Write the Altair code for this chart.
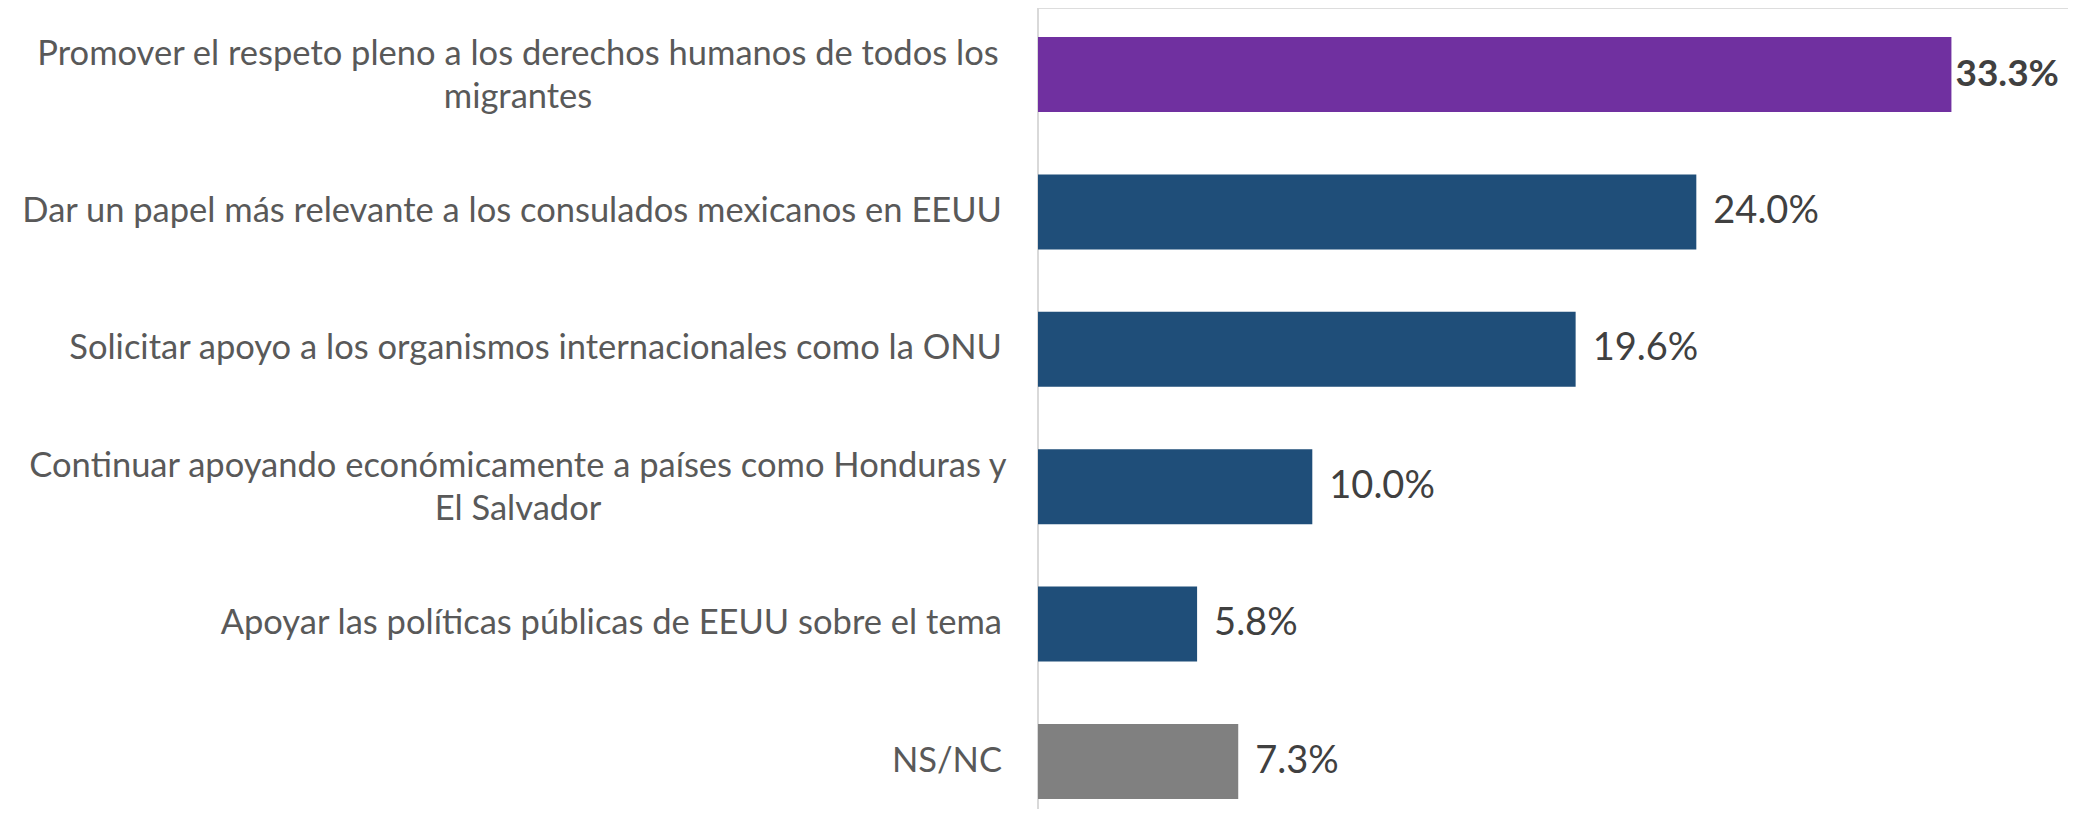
import altair as alt
import pandas as pd

categorias = [
    "Promover el respeto pleno a los derechos humanos de todos los\nmigrantes",
    "Dar un papel más relevante a los consulados mexicanos en EEUU",
    "Solicitar apoyo a los organismos internacionales como la ONU",
    "Continuar apoyando económicamente a países como Honduras y\nEl Salvador",
    "Apoyar las políticas públicas de EEUU sobre el tema",
    "NS/NC",
]
valores = [33.3, 24.0, 19.6, 10.0, 5.8, 7.3]
grupos = ["destacado", "normal", "normal", "normal", "normal", "nsnc"]
etiquetas = ["33.3%", "24.0%", "19.6%", "10.0%", "5.8%", "7.3%"]

df = pd.DataFrame({"cat": categorias, "valor": valores, "grupo": grupos, "etq": etiquetas})

W, H = 1030, 801
FONT = "Lato"

y = alt.Y("cat:N", sort=categorias, axis=None,
          scale=alt.Scale(paddingInner=0.454, paddingOuter=0.142, align=0.744))
x = alt.X("valor:Q", axis=None, scale=alt.Scale(domain=[0, 37.55]))

base = alt.Chart(df)

bars = base.mark_bar().encode(
    x=x, y=y,
    color=alt.Color("grupo:N", legend=None,
                    scale=alt.Scale(domain=["destacado", "normal", "nsnc"],
                                    range=["#7030A0", "#1F4E79", "#808080"])),
)

val_norm = base.transform_filter("datum.grupo != 'destacado'").mark_text(
    align="left", baseline="middle", dx=17, font=FONT, fontSize=38, color="#404040"
).encode(x=x, y=y, text="etq:N")

val_bold = base.transform_filter("datum.grupo == 'destacado'").mark_text(
    align="left", baseline="middle", dx=4, font=FONT, fontSize=37, fontWeight="bold", color="#404040"
).encode(x=x, y=y, text="etq:N")

lab_single = base.transform_filter("indexof(datum.cat, '\\n') < 0").mark_text(
    align="right", baseline="middle", font=FONT, fontSize=34.5, color="#595959"
).encode(x=alt.value(-36), y=y, text="cat:N")

lab_multi = base.transform_filter("indexof(datum.cat, '\\n') >= 0").mark_text(
    align="center", baseline="middle", lineBreak="\n", lineHeight=43, dx=-484, dy=-20,
    font=FONT, fontSize=34.5, color="#595959"
).encode(x=alt.value(-36), y=y, text="cat:N")

axis_line = base.mark_rule(color="#D9D9D9", strokeWidth=1.5).encode(
    x=alt.value(0), y=alt.value(-2), y2=alt.value(H)
)

chart = alt.layer(axis_line, bars, val_norm, val_bold, lab_single, lab_multi).properties(
    width=W, height=H,
    autosize=alt.AutoSizeParams(type="none"),
    padding={"left": 1030, "top": 0, "right": 0, "bottom": 0},
).configure_view(stroke=None).configure(background="white")

chart.save("out.html", embed_options={"renderer": "svg", "actions": False})
